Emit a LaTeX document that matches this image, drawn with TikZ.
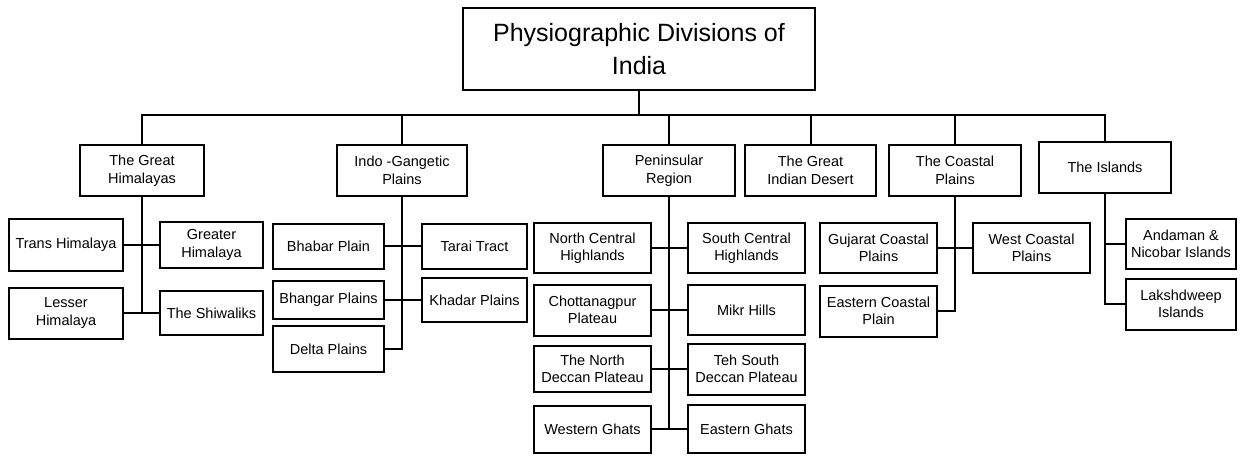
\documentclass[tikz,border=0pt]{standalone}
\usepackage{fontspec}
\setmainfont{Liberation Sans}
\usepackage{xcolor}
\usepackage{tikz}
\usetikzlibrary{arrows,shapes,positioning}
\tikzstyle{block} = [rectangle, draw, line width=2pt, align=center, inner sep=0pt,
    font=\fontsize{14.5}{17.5}\selectfont]
\tikzstyle{rootblock} = [rectangle, draw, line width=2pt, align=center, inner sep=0pt,
    font=\fontsize{25}{33}\selectfont]
\tikzstyle{line} = [draw, line width=2pt]

\begin{document}
\begin{tikzpicture}[x=1pt, y=-1pt]
    \useasboundingbox (0,0) rectangle (1241,455);
    % root and bus
    \node [rootblock, minimum width=352, minimum height=82] (root) at (639,49) {Physiographic Divisions of\\India};
    \coordinate (bus) at (639,115);
    % main divisions
    \node [block, minimum width=124, minimum height=51] (gh) at (142,170.5) {The Great\\Himalayas};
    \node [block, minimum width=130, minimum height=51] (ig) at (402,170.5) {Indo -Gangetic\\Plains};
    \node [block, minimum width=132, minimum height=51] (pen) at (669,170.5) {Peninsular\\Region};
    \node [block, minimum width=131, minimum height=51] (des) at (810.5,170.5) {The Great\\Indian Desert};
    \node [block, minimum width=132, minimum height=51] (coast) at (955,170.5) {The Coastal\\Plains};
    \node [block, minimum width=132, minimum height=51] (isl) at (1105,167.5) {The Islands};
    \path [line] (root.south) -- (bus);
    \path [line] (gh.north) |- (bus) -| (isl.north);
    \foreach \n in {ig,pen,des,coast}
        \path [line] (\n.north) -- (\n.north |- bus);
    % Himalayas
    \node [block, minimum width=114, minimum height=52] (trans) at (66,245) {Trans Himalaya};
    \node [block, minimum width=103, minimum height=46] (greater) at (211.5,245) {Greater\\Himalaya};
    \node [block, minimum width=114, minimum height=51] (lesser) at (66,313) {Lesser\\Himalaya};
    \node [block, minimum width=103, minimum height=44] (shiw) at (211.5,313) {The Shiwaliks};
    \path [line] (gh.south) -- (gh.south |- lesser.east);
    \path [line] (trans) -- (greater);
    \path [line] (lesser) -- (shiw);
    % Indo-Gangetic plains
    \node [block, minimum width=111, minimum height=45] (bhabar) at (328.5,246) {Bhabar Plain};
    \node [block, minimum width=105, minimum height=45] (tarai) at (474.5,246) {Tarai Tract};
    \node [block, minimum width=111, minimum height=38] (bhangar) at (328.5,300) {Bhangar Plains};
    \node [block, minimum width=105, minimum height=44] (khadar) at (474.5,300) {Khadar Plains};
    \node [block, minimum width=111, minimum height=46] (delta) at (328.5,349) {Delta Plains};
    \path [line] (ig.south) |- (delta.east);
    \path [line] (bhabar) -- (tarai);
    \path [line] (bhangar) -- (khadar);
    % Peninsular region
    \node [block, minimum width=117, minimum height=50] (nch) at (592.5,248) {North Central\\Highlands};
    \node [block, minimum width=117, minimum height=50] (sch) at (746.5,248) {South Central\\Highlands};
    \node [block, minimum width=117, minimum height=51] (chota) at (592.5,310) {Chottanagpur\\Plateau};
    \node [block, minimum width=117, minimum height=50] (mikr) at (746.5,310) {Mikr Hills};
    \node [block, minimum width=117, minimum height=46] (nd) at (592.5,369) {The North\\Deccan Plateau};
    \node [block, minimum width=117, minimum height=51] (sd) at (746.5,369) {Teh South\\Deccan Plateau};
    \node [block, minimum width=117, minimum height=47] (wg) at (592.5,429) {Western Ghats};
    \node [block, minimum width=117, minimum height=48] (eg) at (746.5,429) {Eastern Ghats};
    \path [line] (pen.south) -- (pen.south |- wg.east);
    \path [line] (nch) -- (sch);
    \path [line] (chota) -- (mikr);
    \path [line] (nd) -- (sd);
    \path [line] (wg) -- (eg);
    % Coastal plains
    \node [block, minimum width=117, minimum height=50] (guj) at (878.5,248) {Gujarat Coastal\\Plains};
    \node [block, minimum width=117, minimum height=50] (west) at (1031.5,248) {West Coastal\\Plains};
    \node [block, minimum width=117, minimum height=51] (east) at (878.5,311) {Eastern Coastal\\Plain};
    \path [line] (coast.south) |- (east.east);
    \path [line] (guj) -- (west);
    % Islands
    \node [block, minimum width=110, minimum height=50] (anda) at (1181,244) {Andaman \&\\Nicobar Islands};
    \node [block, minimum width=110, minimum height=51] (laks) at (1181,304) {Lakshdweep\\Islands};
    \path [line] (isl.south) |- (laks.west);
    \path [line] (anda.west) -- (anda.west -| isl.south);
\end{tikzpicture}
\end{document}
